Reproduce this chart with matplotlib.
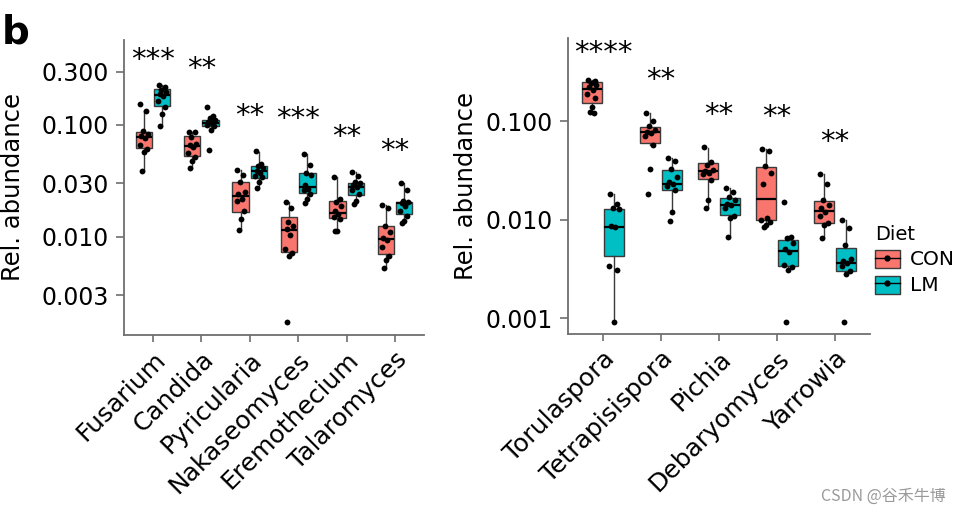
import matplotlib
matplotlib.use("Agg")
import matplotlib.pyplot as plt
import matplotlib.transforms as mtransforms
from matplotlib.patches import Patch
from matplotlib.lines import Line2D
import numpy as np

plt.rcParams['font.family'] = ['DejaVu Sans']

CON_COLOR = '#F8766D'
LM_COLOR = '#00BFC4'

# ---- left panel data ----
genera_l = ['Fusarium', 'Candida', 'Pyricularia', 'Nakaseomyces', 'Eremothecium', 'Talaromyces']
stars_l = ['***', '**', '**', '***', '**', '**']
stars_l_y = [0.449, 0.373, 0.142, 0.133, 0.092, 0.069]

con_l_med = [0.0781, 0.0645, 0.0232, 0.01155, 0.0164, 0.00953]
con_l_q1 = [0.0623, 0.0528, 0.0168, 0.0074, 0.0147, 0.0070]
con_l_q3 = [0.0866, 0.0798, 0.0312, 0.0152, 0.0208, 0.0124]
con_l_lo = [0.0388, 0.041, 0.0115, 0.00667, 0.0113, 0.00525]
con_l_hi = [0.133, 0.0872, 0.0397, 0.0204, 0.0344, 0.0193]

lm_l_med = [0.187, 0.105, 0.0388, 0.0281, 0.0281, 0.0200]
lm_l_q1 = [0.147, 0.0986, 0.0334, 0.0245, 0.0237, 0.0160]
lm_l_q3 = [0.211, 0.110, 0.0431, 0.0371, 0.0303, 0.0204]
lm_l_lo = [0.098, 0.090, 0.0275, 0.020, 0.0196, 0.0132]
lm_l_hi = [0.228, 0.120, 0.0578, 0.0551, 0.0379, 0.0300]

con_l_pts = [
    [0.155, 0.133, 0.088, 0.083, 0.079, 0.076, 0.066, 0.061, 0.057, 0.039],
    [0.087, 0.086, 0.078, 0.068, 0.066, 0.063, 0.056, 0.052, 0.048, 0.041],
    [0.0397, 0.036, 0.031, 0.025, 0.024, 0.022, 0.021, 0.017, 0.0145, 0.0115],
    [0.0204, 0.018, 0.0135, 0.0125, 0.0118, 0.0105, 0.0078, 0.0072, 0.0067, 0.00174],
    [0.034, 0.022, 0.0205, 0.019, 0.017, 0.016, 0.015, 0.0145, 0.0113, 0.0112],
    [0.0193, 0.018, 0.0125, 0.011, 0.0098, 0.0093, 0.0082, 0.0068, 0.0062, 0.0053],
]
lm_l_pts = [
    [0.228, 0.22, 0.205, 0.195, 0.19, 0.183, 0.165, 0.145, 0.125, 0.098],
    [0.145, 0.12, 0.115, 0.11, 0.107, 0.104, 0.10, 0.097, 0.09, 0.060],
    [0.058, 0.045, 0.043, 0.041, 0.039, 0.037, 0.035, 0.034, 0.031, 0.0275],
    [0.055, 0.044, 0.037, 0.036, 0.029, 0.027, 0.026, 0.024, 0.022, 0.020],
    [0.038, 0.035, 0.031, 0.030, 0.029, 0.028, 0.026, 0.024, 0.021, 0.0196],
    [0.030, 0.026, 0.021, 0.0205, 0.020, 0.019, 0.017, 0.0155, 0.014, 0.0132],
]

# ---- right panel data ----
genera_r = ['Torulaspora', 'Tetrapisispora', 'Pichia', 'Debaryomyces', 'Yarrowia']
stars_r = ['****', '**', '**', '**', '**']
stars_r_y = [0.59, 0.32, 0.139, 0.135, 0.074]

con_r_med = [0.213, 0.0768, 0.0308, 0.0162, 0.0123]
con_r_q1 = [0.151, 0.0602, 0.0256, 0.0100, 0.00914]
con_r_q3 = [0.247, 0.0869, 0.0377, 0.0344, 0.0153]
con_r_lo = [0.120, 0.057, 0.0130, 0.00826, 0.00653]
con_r_hi = [0.261, 0.122, 0.0536, 0.0516, 0.029]

lm_r_med = [0.00845, 0.0231, 0.0140, 0.00482, 0.00364]
lm_r_q1 = [0.00423, 0.0201, 0.0111, 0.0034, 0.00302]
lm_r_q3 = [0.0128, 0.0316, 0.0164, 0.0062, 0.0051]
lm_r_lo = [0.00092, 0.0120, 0.0066, 0.0031, 0.00274]
lm_r_hi = [0.0182, 0.0418, 0.0208, 0.0066, 0.0099]

con_r_pts = [
    [0.26, 0.255, 0.245, 0.235, 0.22, 0.205, 0.19, 0.17, 0.14, 0.125, 0.12],
    [0.12, 0.10, 0.09, 0.082, 0.078, 0.076, 0.07, 0.057, 0.033, 0.018],
    [0.054, 0.038, 0.036, 0.032, 0.031, 0.030, 0.029, 0.025, 0.016, 0.013],
    [0.052, 0.050, 0.035, 0.030, 0.023, 0.0105, 0.0098, 0.0094, 0.0088, 0.0085],
    [0.029, 0.023, 0.016, 0.014, 0.013, 0.012, 0.011, 0.0092, 0.0088, 0.0065],
]
lm_r_pts = [
    [0.018, 0.0145, 0.013, 0.0128, 0.0087, 0.0085, 0.0034, 0.0031, 0.00092],
    [0.042, 0.039, 0.033, 0.027, 0.024, 0.023, 0.022, 0.020, 0.012, 0.0097],
    [0.021, 0.019, 0.017, 0.016, 0.0145, 0.014, 0.013, 0.011, 0.0105, 0.0066],
    [0.0151, 0.0066, 0.0065, 0.0058, 0.0050, 0.0047, 0.0035, 0.0033, 0.0031, 0.00092],
    [0.0099, 0.0083, 0.0055, 0.0040, 0.0038, 0.0036, 0.0034, 0.0030, 0.0028, 0.00092],
]

# fixed jitter pattern for the dots
jit = np.array([-0.07, 0.05, -0.02, 0.08, -0.05, 0.02, -0.08, 0.06, 0.0, -0.04, 0.04])
dodge = 0.19
box_w = 0.34


def stats_list(med, q1, q3, lo, hi):
    return [dict(med=m, q1=a, q3=b, whislo=l, whishi=h, fliers=[])
            for m, a, b, l, h in zip(med, q1, q3, lo, hi)]


def draw_panel(ax, genera, con_stats, lm_stats, con_pts, lm_pts, stars, stars_y, yticks, ylim):
    x = np.arange(1, len(genera) + 1)
    for stats, pts, off, col in [(con_stats, con_pts, -dodge, CON_COLOR),
                                 (lm_stats, lm_pts, dodge, LM_COLOR)]:
        ax.bxp(stats, positions=x + off, widths=box_w, patch_artist=True,
               showcaps=False, showfliers=False,
               boxprops=dict(facecolor=col, edgecolor='#3a3a3a', linewidth=1.0),
               medianprops=dict(color='black', linewidth=1.6),
               whiskerprops=dict(color='#3a3a3a', linewidth=1.0))
        for i, p in enumerate(pts):
            xs = x[i] + off + jit[:len(p)]
            ax.plot(xs, p, 'o', color='black', markersize=4.2, zorder=5, markeredgewidth=0)

    trans = mtransforms.offset_copy(ax.transData, fig=ax.figure, x=0, y=-6, units='points')
    for xi, s, yv in zip(x, stars, stars_y):
        ax.text(xi, yv, s, ha='center', va='center', fontsize=21, transform=trans)

    ax.set_yscale('log')
    ax.set_ylim(*ylim)
    ax.set_xlim(0.4, len(genera) + 0.6)
    ax.set_yticks(yticks)
    ax.set_yticklabels(['%.3f' % t for t in yticks])
    ax.minorticks_off()
    ax.set_xticks(x)
    ax.set_xticklabels(genera, rotation=45, ha='right', va='top', rotation_mode='anchor', fontsize=18)
    ax.tick_params(axis='y', labelsize=17, length=6, width=1.2, color='#6e6e6e', pad=5)
    ax.tick_params(axis='x', length=5, width=1.2, color='#6e6e6e', pad=4)
    for side in ['top', 'right']:
        ax.spines[side].set_visible(False)
    for side in ['left', 'bottom']:
        ax.spines[side].set_color('#6e6e6e')
        ax.spines[side].set_linewidth(1.3)
    ax.set_ylabel('Rel. abundance', fontsize=17.5)


fig = plt.figure(figsize=(9.6, 5.16), dpi=100)
ax1 = fig.add_axes([0.1292, 0.3508, 0.3125, 0.5717])
ax2 = fig.add_axes([0.5917, 0.3527, 0.3146, 0.5736])

draw_panel(ax1, genera_l,
           stats_list(con_l_med, con_l_q1, con_l_q3, con_l_lo, con_l_hi),
           stats_list(lm_l_med, lm_l_q1, lm_l_q3, lm_l_lo, lm_l_hi),
           con_l_pts, lm_l_pts, stars_l, stars_l_y,
           [0.003, 0.01, 0.03, 0.1, 0.3], (0.00133, 0.574))
draw_panel(ax2, genera_r,
           stats_list(con_r_med, con_r_q1, con_r_q3, con_r_lo, con_r_hi),
           stats_list(lm_r_med, lm_r_q1, lm_r_q3, lm_r_lo, lm_r_hi),
           con_r_pts, lm_r_pts, stars_r, stars_r_y,
           [0.001, 0.01, 0.1], (0.00069, 0.697))

ax1.yaxis.set_label_coords(-0.33, 0.5)
ax2.yaxis.set_label_coords(-0.298, 0.5)

fig.text(0.002, 0.915, 'b', fontsize=28, fontweight='bold')

handles = [(Patch(facecolor=c, edgecolor='#3a3a3a'),
            Line2D([], [], color='black', lw=1, marker='o', markersize=3.5))
           for c in [CON_COLOR, LM_COLOR]]
fig.legend(handles, ['CON', 'LM'], title='Diet', loc='upper left',
           bbox_to_anchor=(0.893, 0.60), frameon=False, fontsize=14.5,
           title_fontsize=14, handlelength=1.2, handleheight=1.0,
           handletextpad=0.5, labelspacing=0.3, alignment='left')

fig.text(0.985, 0.03, 'CSDN @谷禾牛博', ha='right', fontsize=11.5, color='#9a9a9a',
         family=['Noto Sans CJK SC', 'DejaVu Sans'])

fig.savefig('out.png', dpi=100)
